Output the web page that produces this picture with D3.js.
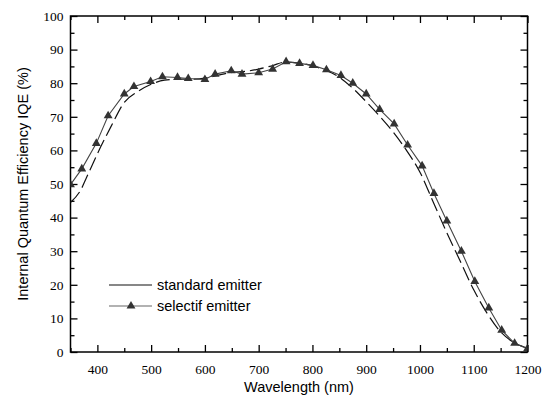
<!DOCTYPE html>
<html>
<head>
<meta charset="utf-8">
<script src="https://cdn.jsdelivr.net/npm/d3@7/dist/d3.min.js"></script>
<style>
  html, body { margin: 0; padding: 0; background: #fff; }
  svg { display: block; }
  .serif { font-family: "Liberation Serif", "Times New Roman", Times, "Nimbus Roman", "Noto Serif", "DejaVu Serif", FreeSerif, serif; }
  .sans { font-family: "Liberation Sans", Arial, sans-serif; }
</style>
</head>
<body>
<svg id="chart" width="549" height="403"></svg>
<script>
// ---- data ----
const standardWavelength = [350, 370, 380, 400, 425, 450, 475, 500, 525, 550, 575, 600, 625, 650, 675, 700, 725, 750, 775, 800, 825, 850, 875, 900, 925, 950, 975, 1000, 1025, 1050, 1075, 1100, 1125, 1150, 1175, 1200];
const standardIQE = [44.5, 48.5, 52, 59, 67, 74.3, 77.5, 79.7, 80.9, 81.2, 81.2, 81.5, 82.4, 83.2, 83.5, 84.2, 85.2, 86.3, 86.0, 85.2, 83.8, 81.8, 78.5, 74.5, 70.2, 65.5, 60.0, 53.5, 44.5, 35.5, 27.0, 18.5, 11.5, 6.0, 2.8, 1.2];

const selectifWavelength = [350, 371, 398, 420, 450, 468, 499, 521, 549, 569, 600, 619, 649, 669, 700, 726, 751, 776, 801, 826, 853, 875, 900, 925, 952, 977, 1004, 1026, 1050, 1077, 1102, 1128, 1152, 1176, 1200];
const selectifIQE = [49.8, 54.5, 62.1, 70.3, 76.8, 79.0, 80.5, 81.9, 81.7, 81.4, 81.1, 82.7, 83.7, 82.7, 83.1, 84.2, 86.4, 85.9, 85.3, 84.0, 82.3, 80.0, 76.8, 72.2, 67.9, 61.6, 55.4, 47.2, 39.0, 30.0, 21.0, 13.1, 6.5, 2.6, 1.0];

const xTicks = [400, 500, 600, 700, 800, 900, 1000, 1100, 1200];
const yTicks = [0, 10, 20, 30, 40, 50, 60, 70, 80, 90, 100];
const seriesNames = ["standard emitter", "selectif emitter"];
const xTitle = "Wavelength (nm)";
const yTitle = "Internal Quantum Efficiency IQE (%)";

// ---- layout ----
const L = 70.5, R = 527.5, T = 16, B = 352;
const svg = d3.select("#chart");
const x = d3.scaleLinear().domain([350, 1200]).range([L, R]);
const y = d3.scaleLinear().domain([0, 100]).range([B, T]);

svg.append("defs").append("clipPath").attr("id", "clip")
  .append("rect").attr("x", L).attr("y", T).attr("width", R - L).attr("height", B - T);

const minorX = d3.range(350, 1201, 50).filter(v => !xTicks.includes(v));
const minorY = d3.range(5, 100, 10);

function styleAxis(g) {
  g.attr("font-family", null).attr("font-size", null);
  g.select(".domain").remove();
  g.selectAll(".tick line").attr("stroke", "#000").attr("stroke-width", 1.3);
}

// bottom axis
const gB = svg.append("g").attr("transform", `translate(0,${B})`)
  .call(d3.axisBottom(x).tickValues(xTicks).tickSizeInner(-7).tickSizeOuter(0).tickPadding(12).tickFormat(d3.format("d")));
styleAxis(gB);
gB.selectAll("text").attr("class", "serif").style("font-size", "13.5px").attr("fill", "#000");
svg.append("g").attr("transform", `translate(0,${B})`)
  .call(d3.axisBottom(x).tickValues(minorX).tickSizeInner(-4).tickSizeOuter(0).tickFormat(""))
  .call(styleAxis);

// top axis
svg.append("g").attr("transform", `translate(0,${T})`)
  .call(d3.axisTop(x).tickValues(xTicks).tickSizeInner(-7).tickSizeOuter(0).tickFormat(""))
  .call(styleAxis);
svg.append("g").attr("transform", `translate(0,${T})`)
  .call(d3.axisTop(x).tickValues(minorX).tickSizeInner(-4).tickSizeOuter(0).tickFormat(""))
  .call(styleAxis);

// left axis
const gL = svg.append("g").attr("transform", `translate(${L},0)`)
  .call(d3.axisLeft(y).tickValues(yTicks).tickSizeInner(-7).tickSizeOuter(0).tickPadding(7).tickFormat(d3.format("d")));
styleAxis(gL);
gL.selectAll("text").attr("class", "serif").style("font-size", "13.5px").attr("fill", "#000");
svg.append("g").attr("transform", `translate(${L},0)`)
  .call(d3.axisLeft(y).tickValues(minorY).tickSizeInner(-4).tickSizeOuter(0).tickFormat(""))
  .call(styleAxis);

// right axis
svg.append("g").attr("transform", `translate(${R},0)`)
  .call(d3.axisRight(y).tickValues(yTicks).tickSizeInner(-7).tickSizeOuter(0).tickFormat(""))
  .call(styleAxis);
svg.append("g").attr("transform", `translate(${R},0)`)
  .call(d3.axisRight(y).tickValues(minorY).tickSizeInner(-4).tickSizeOuter(0).tickFormat(""))
  .call(styleAxis);

// frame
svg.append("rect").attr("x", L).attr("y", T).attr("width", R - L).attr("height", B - T)
  .attr("fill", "none").attr("stroke", "#000").attr("stroke-width", 1.5);

// data
const plot = svg.append("g").attr("clip-path", "url(#clip)");
const stdData = standardWavelength.map((w, i) => [w, standardIQE[i]]);
const selData = selectifWavelength.map((w, i) => [w, selectifIQE[i]]);

const line = d3.line().x(d => x(d[0])).y(d => y(d[1])).curve(d3.curveMonotoneX);

plot.append("path").datum(stdData).attr("d", line)
  .attr("fill", "none").attr("stroke", "#111").attr("stroke-width", 1.2)
  .attr("stroke-dasharray", "14,5");

plot.append("path").datum(selData).attr("d", d3.line().x(d => x(d[0])).y(d => y(d[1])))
  .attr("fill", "none").attr("stroke", "#444").attr("stroke-width", 1.1);

const tri = d3.symbol().type(d3.symbolTriangle).size(34);
plot.selectAll(".tri").data(selData).enter().append("path")
  .attr("transform", d => `translate(${x(d[0])},${y(d[1])})`)
  .attr("d", tri).attr("fill", "#333");

// legend
const lg = svg.append("g");
lg.append("line").attr("x1", 109).attr("x2", 152).attr("y1", 285).attr("y2", 285)
  .attr("stroke", "#111").attr("stroke-width", 1.1);
lg.append("text").attr("class", "sans").attr("x", 157).attr("y", 285).attr("dy", "0.35em")
  .style("font-size", "14.5px").text(seriesNames[0]);
lg.append("line").attr("x1", 109).attr("x2", 152).attr("y1", 306).attr("y2", 306)
  .attr("stroke", "#666").attr("stroke-width", 1.1);
lg.append("path").attr("transform", "translate(131,306)").attr("d", tri).attr("fill", "#333");
lg.append("text").attr("class", "sans").attr("x", 157).attr("y", 306).attr("dy", "0.35em")
  .style("font-size", "14.5px").text(seriesNames[1]);

// titles
svg.append("text").attr("class", "sans").attr("x", (L + R) / 2).attr("y", 392).attr("text-anchor", "middle")
  .style("font-size", "14.5px").text(xTitle);
svg.append("text").attr("class", "sans").attr("transform", `translate(28,${(T + B) / 2}) rotate(-90)`)
  .attr("text-anchor", "middle").style("font-size", "14.5px").text(yTitle);
</script>
</body>
</html>
